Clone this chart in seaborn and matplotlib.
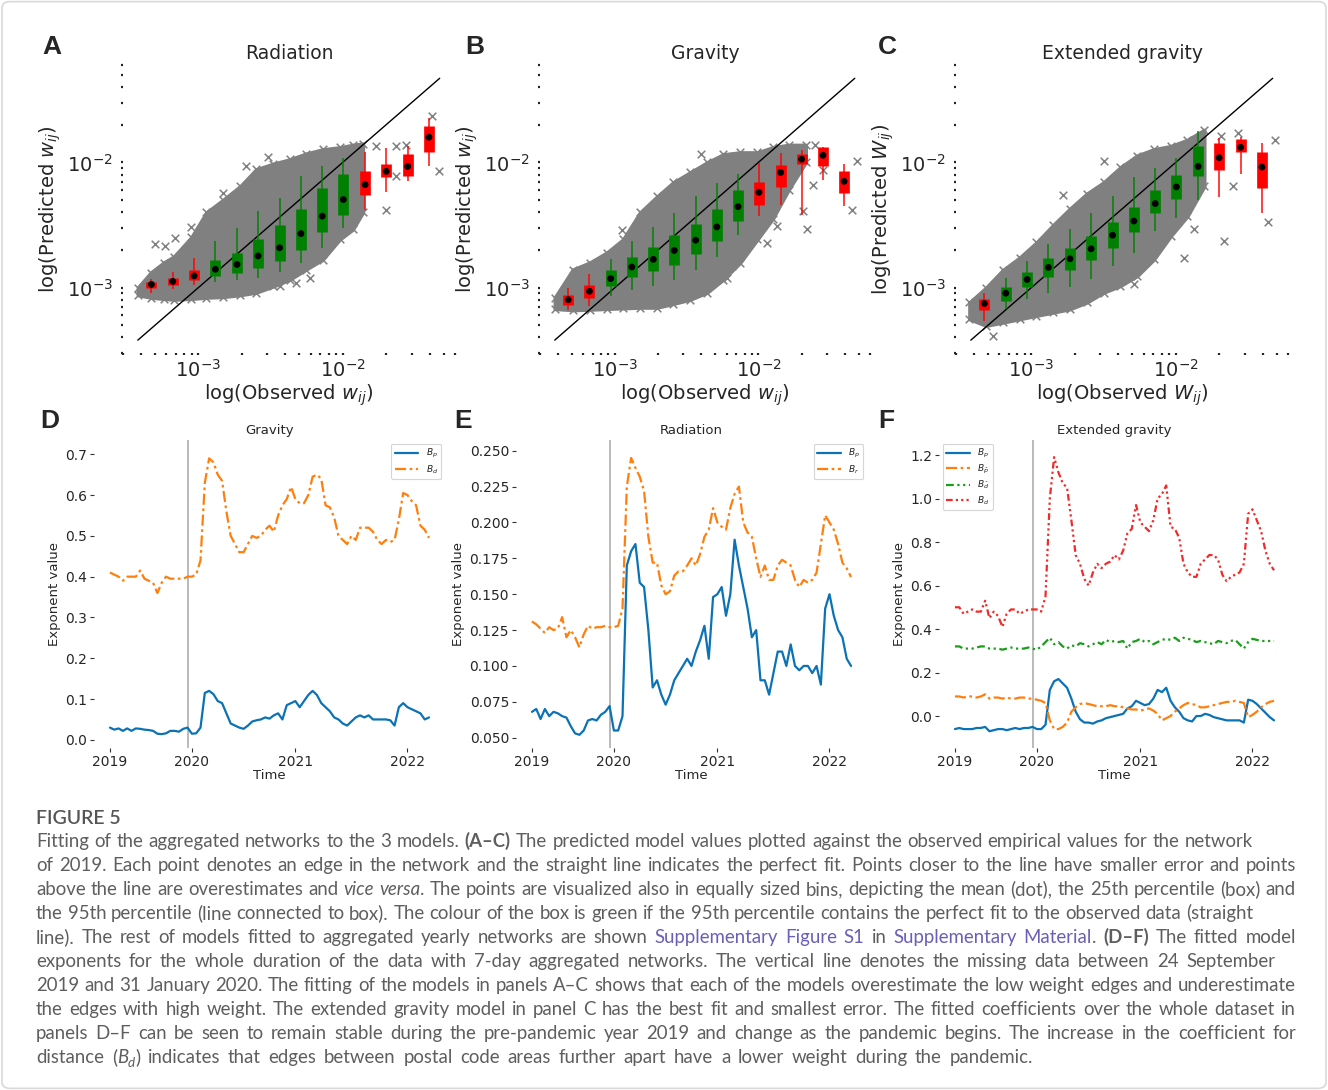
import numpy as np
import pandas as pd
import matplotlib
matplotlib.use("Agg")
import matplotlib.pyplot as plt
import seaborn as sns
from matplotlib.patches import FancyBboxPatch
from matplotlib.ticker import LogLocator, NullFormatter, FixedLocator, FormatStrFormatter

# ---------------------------------------------------------------- data (A-C)
bin_centers = [4.72e-4, 6.64e-4, 9.33e-4, 1.31e-3, 1.85e-3, 2.59e-3, 3.65e-3,
               5.13e-3, 7.21e-3, 1.01e-2, 1.43e-2, 2.00e-2, 2.82e-2, 3.96e-2]
diag_range = [3.8e-4, 4.7e-2]

A_mean = [1.06e-3, 1.12e-3, 1.24e-3, 1.40e-3, 1.53e-3, 1.79e-3, 2.08e-3, 2.70e-3, 3.72e-3, 5.05e-3, 6.64e-3, 8.48e-3, 9.29e-3, 1.59e-2]
A_box_lo = [0.99e-3, 1.05e-3, 1.15e-3, 1.24e-3, 1.30e-3, 1.42e-3, 1.63e-3, 2.0e-3, 2.77e-3, 3.78e-3, 5.46e-3, 7.6e-3, 7.74e-3, 1.20e-2]
A_box_hi = [1.10e-3, 1.19e-3, 1.38e-3, 1.65e-3, 1.90e-3, 2.45e-3, 3.19e-3, 4.28e-3, 6.28e-3, 8.13e-3, 8.59e-3, 9.76e-3, 1.17e-2, 1.96e-2]
A_wh_lo = [0.91e-3, 0.97e-3, 1.04e-3, 1.10e-3, 1.15e-3, 1.20e-3, 1.33e-3, 1.58e-3, 2.08e-3, 3.0e-3, 4.2e-3, 5.77e-3, 7.06e-3, 9.29e-3]
A_wh_hi = [1.16e-3, 1.33e-3, 1.73e-3, 2.35e-3, 3.0e-3, 4.07e-3, 5.2e-3, 7.74e-3, 9.4e-3, 1.08e-2, 1.22e-2, 1.30e-2, 1.36e-2, 2.25e-2]
A_fit = [0, 0, 0, 1, 1, 1, 1, 1, 1, 1, 0, 0, 0, 0]

B_mean = [0.80e-3, 0.935e-3, 1.18e-3, 1.46e-3, 1.68e-3, 1.98e-3, 2.39e-3, 3.05e-3, 4.43e-3, 5.77e-3, 8.32e-3, 1.06e-2, 1.14e-2, 7.06e-3]
B_box_lo = [0.728e-3, 0.828e-3, 1.03e-3, 1.22e-3, 1.36e-3, 1.51e-3, 1.84e-3, 2.35e-3, 3.40e-3, 4.55e-3, 6.32e-3, 9.76e-3, 9.29e-3, 5.66e-3]
B_box_hi = [0.875e-3, 1.045e-3, 1.38e-3, 1.77e-3, 2.12e-3, 2.62e-3, 3.23e-3, 4.26e-3, 6.03e-3, 6.98e-3, 9.53e-3, 1.17e-2, 1.32e-2, 8.53e-3]
B_wh_lo = [0.664e-3, 0.715e-3, 0.86e-3, 0.957e-3, 1.03e-3, 1.15e-3, 1.37e-3, 1.77e-3, 2.61e-3, 3.72e-3, 4.55e-3, 3.77e-3, 7.28e-3, 4.47e-3]
B_wh_hi = [1.0e-3, 1.28e-3, 1.70e-3, 2.35e-3, 3.05e-3, 3.95e-3, 5.43e-3, 6.85e-3, 8.13e-3, 9.88e-3, 1.19e-2, 1.26e-2, 1.32e-2, 9.7e-3]
B_fit = [0, 0, 1, 1, 1, 1, 1, 1, 1, 0, 0, 0, 0, 0]

C_mean = [0.746e-3, 0.902e-3, 1.16e-3, 1.45e-3, 1.70e-3, 2.04e-3, 2.62e-3, 3.40e-3, 4.69e-3, 6.37e-3, 9.29e-3, 1.09e-2, 1.32e-2, 9.18e-3]
C_box_lo = [0.664e-3, 0.783e-3, 1.01e-3, 1.22e-3, 1.38e-3, 1.66e-3, 2.06e-3, 2.77e-3, 3.93e-3, 5.14e-3, 7.74e-3, 8.74e-3, 1.20e-2, 6.25e-3]
C_box_hi = [0.807e-3, 1.01e-3, 1.33e-3, 1.71e-3, 2.06e-3, 2.56e-3, 3.37e-3, 4.44e-3, 6.05e-3, 7.98e-3, 1.36e-2, 1.43e-2, 1.53e-2, 1.21e-2]
C_wh_lo = [0.543e-3, 0.673e-3, 0.807e-3, 0.912e-3, 1.01e-3, 1.16e-3, 1.49e-3, 1.90e-3, 2.82e-3, 3.61e-3, 4.99e-3, 5.30e-3, 8.07e-3, 3.91e-3]
C_wh_hi = [0.912e-3, 1.20e-3, 1.63e-3, 2.24e-3, 2.91e-3, 3.91e-3, 5.36e-3, 7.6e-3, 9.02e-3, 1.08e-2, 1.77e-2, 1.56e-2, 1.61e-2, 1.43e-2]
C_fit = [0, 1, 1, 1, 1, 1, 1, 1, 1, 1, 1, 0, 0, 0]

# envelope of the grey point cloud (log10 of observed / predicted)
A_cloud_x_log = [-3.42, -3.33, -3.24, -3.17, -3.05, -2.945, -2.83, -2.71, -2.60, -2.48, -2.366, -2.255, -2.138, -2.021, -1.93, -1.86]
A_cloud_hi_log = [-3.00, -2.88, -2.80, -2.752, -2.60, -2.40, -2.30, -2.19, -2.056, -2.01, -1.976, -1.93, -1.896, -1.88, -1.86, -1.85]
A_cloud_lo_log = [-3.06, -3.08, -3.09, -3.096, -3.09, -3.08, -3.075, -3.06, -3.04, -2.99, -2.936, -2.856, -2.776, -2.616, -2.536, -2.40]
A_out_x_log = [-3.299, -3.230, -3.161, -2.828, -2.667, -2.437, -2.322, -2.230, -1.701, -1.632, -1.563, -1.379, -1.333, -1.770, -1.632, -3.05, -2.52]
A_out_y_log = [-2.655, -2.668, -2.602, -2.244, -2.032, -2.987, -2.960, -2.920, -2.377, -2.111, -1.859, -1.629, -2.072, -1.873, -1.873, -2.52, -1.96]

B_cloud_x_log = [-3.42, -3.294, -3.175, -3.056, -2.944, -2.825, -2.706, -2.594, -2.476, -2.357, -2.245, -2.126, -2.007, -1.90, -1.79, -1.67]
B_cloud_hi_log = [-3.08, -2.856, -2.80, -2.72, -2.616, -2.40, -2.272, -2.16, -2.08, -2.0, -1.936, -1.92, -1.92, -1.88, -1.86, -1.86]
B_cloud_lo_log = [-3.17, -3.18, -3.176, -3.17, -3.165, -3.16, -3.16, -3.13, -3.096, -3.04, -2.936, -2.80, -2.616, -2.45, -2.22, -2.0]
B_out_x_log = [-2.186, -2.221, -2.012, -1.942, -1.872, -1.686, -1.663, -1.616, -1.547, -1.349, -1.314, -1.605, -2.95, -2.40]
B_out_y_log = [-2.828, -2.920, -2.496, -2.642, -2.509, -2.390, -2.536, -2.178, -2.058, -2.377, -1.992, -1.859, -2.54, -1.93]

C_cloud_x_log = [-3.430, -3.314, -3.198, -3.081, -2.965, -2.849, -2.733, -2.616, -2.500, -2.384, -2.267, -2.151, -2.035, -1.919, -1.802]
C_cloud_hi_log = [-3.119, -3.000, -2.860, -2.760, -2.640, -2.500, -2.370, -2.250, -2.160, -2.040, -1.945, -1.895, -1.870, -1.820, -1.740]
C_cloud_lo_log = [-3.252, -3.305, -3.279, -3.252, -3.225, -3.199, -3.172, -3.119, -3.040, -2.987, -2.907, -2.775, -2.589, -2.430, -2.191]
C_out_x_log = [-3.267, -2.779, -2.500, -2.291, -2.151, -1.942, -1.872, -1.663, -1.605, -1.360, -1.314, -1.686, -1.570]
C_out_y_log = [-3.385, -2.257, -1.992, -2.973, -2.642, -2.761, -2.536, -2.629, -2.191, -2.477, -1.820, -1.793, -1.767]

# ---------------------------------------------------------------- data (D-F)
weeks = list(range(0, 149, 2))
year_ticks = [0, 38, 86, 138]
year_labels = ["2019", "2020", "2021", "2022"]
gap_week = 36

D_Bd = [.41, .405, .40, .39, .40, .40, .40, .415, .395, .39, .385, .36, .385, .40, .395, .395, .395, .395, .40, .40,
        .405, .44, .63, .69, .68, .65, .635, .56, .50, .48, .46, .46, .48, .50, .495, .50, .515, .525, .51, .55,
        .575, .59, .62, .59, .58, .58, .60, .645, .65, .64, .575, .57, .545, .50, .49, .48, .50, .49, .52, .52,
        .52, .51, .49, .48, .49, .485, .49, .54, .605, .60, .585, .575, .525, .515, .495]
D_Bp = [.03, .025, .028, .022, .028, .022, .028, .027, .025, .024, .022, .015, .014, .016, .022, .022, .02, .027, .03, .015,
        .016, .03, .115, .12, .112, .095, .09, .065, .04, .035, .03, .027, .035, .045, .048, .05, .055, .052, .06, .065,
        .05, .085, .09, .095, .08, .095, .11, .12, .11, .09, .08, .07, .055, .05, .04, .035, .045, .055, .06, .055,
        .06, .05, .05, .05, .05, .048, .035, .08, .09, .08, .075, .07, .065, .05, .055]

E_Br = [.131, .129, .126, .123, .127, .125, .126, .134, .12, .125, .12, .113, .122, .128, .126, .127, .127, .128, .127, .127,
        .128, .14, .225, .245, .238, .232, .222, .19, .172, .172, .156, .15, .152, .163, .166, .166, .17, .175, .17, .178,
        .19, .195, .21, .2, .197, .195, .21, .22, .225, .2, .193, .19, .175, .162, .17, .16, .16, .17, .174, .172,
        .17, .16, .155, .16, .158, .16, .165, .185, .205, .2, .195, .185, .172, .168, .162]
E_Bp = [.068, .07, .063, .07, .065, .068, .067, .065, .064, .058, .053, .052, .055, .062, .063, .062, .066, .068, .072, .055,
        .055, .065, .17, .18, .185, .158, .155, .125, .085, .09, .08, .073, .08, .09, .095, .1, .105, .1, .11, .118,
        .128, .105, .148, .15, .155, .135, .15, .188, .17, .155, .14, .12, .125, .09, .09, .08, .095, .11, .11, .1,
        .115, .1, .097, .1, .1, .095, .1, .087, .14, .15, .135, .125, .12, .105, .1]

F_Bp = [-.06, -.055, -.06, -.06, -.06, -.055, -.055, -.05, -.07, -.065, -.06, -.06, -.065, -.06, -.055, -.06, -.055, -.055, -.05, -.06,
        -.06, -.04, .12, .16, .17, .15, .13, .08, .02, -.015, -.03, -.03, -.035, -.025, -.02, -.01, -.005, 0.0, .005, .01,
        .035, .045, .07, .06, .05, .055, .08, .12, .11, .13, .07, .04, .02, -.01, -.02, -.025, 0.0, 0.0, .01, .005,
        -.005, -.01, -.015, -.02, -.02, -.02, -.02, -.03, .075, .07, .055, .035, .015, -.005, -.02]
F_Bp_hat = [.09, .09, .085, .09, .09, .085, .09, .10, .08, .085, .085, .08, .085, .08, .08, .085, .085, .08, .08, .075,
            .07, .06, -.02, -.06, -.06, -.05, -.03, .02, .04, .055, .06, .055, .05, .045, .045, .045, .05, .045, .045, .04,
            .035, .03, .03, .025, .03, .035, .025, .01, -.02, -.01, 0.0, .02, .035, .05, .06, .055, .05, .04, .04, .045,
            .05, .055, .06, .065, .065, .07, .065, .06, -.005, .005, .02, .04, .055, .065, .07]
F_Bd_hat = [.32, .32, .31, .31, .31, .315, .32, .32, .31, .31, .31, .305, .31, .315, .31, .31, .31, .315, .31, .305,
            .32, .34, .36, .33, .34, .32, .31, .325, .32, .335, .33, .32, .33, .34, .33, .35, .34, .345, .34, .345,
            .31, .34, .345, .355, .34, .345, .33, .34, .35, .355, .35, .36, .345, .36, .355, .35, .34, .345, .34, .335,
            .33, .345, .34, .335, .345, .35, .33, .31, .34, .355, .35, .345, .345, .345, .345]
F_Bd = [.50, .50, .47, .48, .49, .48, .48, .53, .45, .48, .46, .41, .47, .49, .49, .47, .48, .49, .49, .49,
        .48, .55, 1.0, 1.19, 1.12, 1.07, 1.05, .90, .74, .70, .63, .60, .66, .70, .68, .70, .71, .74, .72, .76,
        .84, .86, .97, .89, .87, .85, .90, 1.0, 1.02, 1.06, .87, .86, .82, .70, .66, .64, .64, .70, .72, .74,
        .74, .72, .65, .62, .64, .65, .66, .70, .93, .95, .90, .85, .76, .70, .67]

# ---------------------------------------------------------------- style
W, H = 1328, 1090
sns.set_theme(style="white")
plt.rcParams["font.family"] = ["DejaVu Sans"]
fig = plt.figure(figsize=(W / 100, H / 100), dpi=100)

GREY = "#808080"
GREEN = "#008000"
RED = "#ff0000"
BLUE = "#0a72b5"
ORANGE = "#ff7f0e"
LGREEN = "#1a9e1a"
LRED = "#f22a2a"


def px_axes(l, t, r, b):
    return fig.add_axes([l / W, 1 - b / H, (r - l) / W, (b - t) / H])


def scatter_panel(ax, title, wsym, cx, clo, chi, ox, oy, mean, blo, bhi, wlo, whi, fit):
    ax.set_xscale("log")
    ax.set_yscale("log")
    cx = 10 ** np.array(cx); clo = 10 ** np.array(clo); chi = 10 ** np.array(chi)
    ox = 10 ** np.array(ox); oy = 10 ** np.array(oy)
    ax.fill_between(cx, clo, chi, color=GREY, lw=2.5, edgecolor=GREY, zorder=1)
    pts = pd.DataFrame({"x": np.r_[cx, cx, ox], "y": np.r_[clo, chi, oy]})
    sns.scatterplot(data=pts, x="x", y="y", marker="x", color=GREY, s=30,
                    linewidth=1.1, ax=ax, zorder=1)
    sns.lineplot(x=diag_range, y=diag_range, color="black", lw=1.0, ax=ax, zorder=2)
    cols = [GREEN if f else RED for f in fit]
    ax.vlines(bin_centers, wlo, whi, colors=cols, lw=1.4, alpha=0.75, zorder=3)
    ax.vlines(bin_centers, blo, bhi, colors=cols, lw=7.7, zorder=4, capstyle="butt")
    sns.scatterplot(x=bin_centers, y=mean, color="black", s=24, edgecolor="none", ax=ax, zorder=5)
    ax.set_xlim(3.0e-4, 6.0e-2)
    ax.set_ylim(3.0e-4, 6.0e-2)
    for s in ax.spines.values():
        s.set_visible(False)
    ax.xaxis.set_major_locator(LogLocator(base=10, numticks=10))
    ax.yaxis.set_major_locator(LogLocator(base=10, numticks=10))
    ax.xaxis.set_minor_locator(LogLocator(base=10, subs=np.arange(2, 10), numticks=20))
    ax.yaxis.set_minor_locator(LogLocator(base=10, subs=np.arange(2, 10), numticks=20))
    ax.xaxis.set_minor_formatter(NullFormatter())
    ax.yaxis.set_minor_formatter(NullFormatter())
    ax.tick_params(which="both", bottom=True, left=True, length=1.4, width=1.6,
                   direction="out", color="#222222", labelsize=14)
    ax.tick_params(axis="x", which="both", pad=3)
    ax.tick_params(axis="y", which="both", pad=6)
    ax.set_title(title, fontsize=13.5, pad=4)
    ax.set_xlabel(f"log(Observed ${wsym}_{{ij}}$)", fontsize=14, labelpad=1)
    ax.set_ylabel(f"log(Predicted ${wsym}_{{ij}}$)", fontsize=14, labelpad=3)


axA = px_axes(123, 65, 455, 353)
axB = px_axes(540, 65, 870, 353)
axC = px_axes(956, 65, 1288, 353)
scatter_panel(axA, "Radiation", "w", A_cloud_x_log, A_cloud_lo_log, A_cloud_hi_log, A_out_x_log, A_out_y_log,
              A_mean, A_box_lo, A_box_hi, A_wh_lo, A_wh_hi, A_fit)
scatter_panel(axB, "Gravity", "w", B_cloud_x_log, B_cloud_lo_log, B_cloud_hi_log, B_out_x_log, B_out_y_log,
              B_mean, B_box_lo, B_box_hi, B_wh_lo, B_wh_hi, B_fit)
scatter_panel(axC, "Extended gravity", "W", C_cloud_x_log, C_cloud_lo_log, C_cloud_hi_log, C_out_x_log, C_out_y_log,
              C_mean, C_box_lo, C_box_hi, C_wh_lo, C_wh_hi, C_fit)


def ts_panel(ax, title, series, ylim, yticks, yfmt, loc):
    ax.axvline(gap_week, color="#b4b4b4", lw=1.3, zorder=0)
    for label, vals, color, dash in series:
        sns.lineplot(x=weeks, y=vals, color=color, lw=1.6, ax=ax, label=label)
        line = ax.lines[-1]
        if dash is not None:
            line.set_dashes(dash)
    ax.set_xlim(-7.4, 155.4)
    ax.set_ylim(*ylim)
    ax.xaxis.set_major_locator(FixedLocator(year_ticks))
    ax.set_xticklabels(year_labels)
    ax.yaxis.set_major_locator(FixedLocator(yticks))
    ax.yaxis.set_major_formatter(FormatStrFormatter(yfmt))
    for s in ax.spines.values():
        s.set_visible(False)
    ax.tick_params(bottom=True, left=True, length=3, width=0.8, direction="out",
                   color="#333333", labelsize=10, pad=2)
    ax.set_title(title, fontsize=9.5, pad=4)
    ax.set_xlabel("Time", fontsize=9.5, labelpad=0)
    ax.set_ylabel("Exponent value", fontsize=9.5, labelpad=3)
    leg = ax.legend(loc=loc, fontsize=6.5, frameon=True, handlelength=2.6,
                    borderaxespad=0.4, labelspacing=0.3, fancybox=True)
    leg.get_frame().set_edgecolor("#cccccc")
    leg.get_frame().set_linewidth(0.8)


DASH_O = (5, 1.6, 1.2, 1.6)
DASH_G = (3.5, 1.6, 1, 1.6, 1, 1.6)
DASH_R = (3, 1.4, 1, 1.4, 1, 1.4, 1, 1.4)

axD = px_axes(94, 440, 445, 748)
axE = px_axes(516, 440, 867, 748)
axF = px_axes(939, 440, 1290, 748)
ts_panel(axD, "Gravity", [(r"$B_p$", D_Bp, BLUE, None), (r"$B_d$", D_Bd, ORANGE, DASH_O)],
         (-0.02, 0.735), [0, .1, .2, .3, .4, .5, .6, .7], "%.1f", "upper right")
ts_panel(axE, "Radiation", [(r"$B_p$", E_Bp, BLUE, None), (r"$B_r$", E_Br, ORANGE, DASH_O)],
         (0.0428, 0.2575), [.05, .075, .1, .125, .15, .175, .2, .225, .25], "%.3f", "upper right")
ts_panel(axF, "Extended gravity",
         [(r"$B_p$", F_Bp, BLUE, None), (r"$B_{\hat{p}}$", F_Bp_hat, ORANGE, DASH_O),
          (r"$B_{\hat{d}}$", F_Bd_hat, LGREEN, DASH_G), (r"$B_d$", F_Bd, LRED, DASH_R)],
         (-0.147, 1.269), [0, .2, .4, .6, .8, 1.0, 1.2], "%.1f", "upper left")

# panel letters
for letter, (x, y) in {"A": (52, 47), "B": (475, 47), "C": (887, 47),
                       "D": (50, 421), "E": (463, 421), "F": (886, 421)}.items():
    fig.text(x / W, 1 - y / H, letter, fontsize=19, fontweight="bold", ha="center",
             va="center", family=["Liberation Sans", "DejaVu Sans"])

# ---------------------------------------------------------------- caption
CAP = "#5e5e5e"
LINK = "#6a5fb8"
cap_lines = [
    [("Fitting of the aggregated networks to the 3 models. ", "n"), ("(A\u2013C)", "b"),
     (" The predicted model values plotted against the observed empirical values for the network", "n")],
    [("of 2019. Each point denotes an edge in the network and the straight line indicates the perfect fit. Points closer to the line have smaller error and points", "n")],
    [("above the line are overestimates and ", "n"), ("vice versa", "i"),
     (". The points are visualized also in equally sized bins, depicting the mean (dot), the 25th percentile (box) and", "n")],
    [("the 95th percentile (line connected to box). The colour of the box is green if the 95th percentile contains the perfect fit to the observed data (straight", "n")],
    [("line). The rest of models fitted to aggregated yearly networks are shown ", "n"),
     ("Supplementary Figure S1", "l"), (" in ", "n"), ("Supplementary Material", "l"), (". ", "n"),
     ("(D\u2013F)", "b"), (" The fitted model", "n")],
    [("exponents for the whole duration of the data with 7-day aggregated networks. The vertical line denotes the missing data between 24 September", "n")],
    [("2019 and 31 January 2020. The fitting of the models in panels A\u2013C shows that each of the models overestimate the low weight edges and underestimate", "n")],
    [("the edges with high weight. The extended gravity model in panel C has the best fit and smallest error. The fitted coefficients over the whole dataset in", "n")],
    [("panels D\u2013F can be seen to remain stable during the pre-pandemic year 2019 and change as the pandemic begins. The increase in the coefficient for", "n")],
    [("distance (", "n"), ("B", "i"), ("d", "s"),
     (") indicates that edges between postal code areas further apart have a lower weight during the pandemic.", "n")],
]
line_end_px = [1253, 1296, 1296, 1253, 1296, 1275, 1296, 1296, 1296, 1033]
CAP_X0 = 36
renderer = fig.canvas.get_renderer()


def kw_for(style, size):
    kw = dict(fontsize=size, color=CAP, family=["Lato", "DejaVu Sans"])
    if style == "b":
        kw["fontweight"] = "bold"
    elif style == "i":
        kw["fontstyle"] = "italic"
    elif style == "l":
        kw["color"] = LINK
    elif style == "s":
        kw["fontstyle"] = "italic"
        kw["fontsize"] = size * 0.72
    return kw


def text_w(s, kw):
    t = fig.text(0, 0, s, **kw)
    w = t.get_window_extent(renderer).width
    t.remove()
    return w


def layout_runs(runs, size):
    """Split runs into words; return list of (word, style) items and gaps count, natural width."""
    items = []  # ("w", word, style) or ("s", style)
    for s, style in runs:
        parts = s.split(" ")
        for j, p in enumerate(parts):
            if p:
                items.append(("w", p, style))
            if j < len(parts) - 1:
                items.append(("s", None, style))
    widths = []
    nat = 0.0
    nsp = 0
    for kind, word, style in items:
        kw = kw_for(style, size)
        if kind == "w":
            w = text_w(word, kw)
        else:
            w = text_w("x x", kw) - text_w("xx", kw)
            nsp += 1
        widths.append(w)
        nat += w
    return items, widths, nat, nsp


def draw_line(runs, ybase, size, target):
    items, widths, nat, nsp = layout_runs(runs, size)
    extra = (target - nat) / nsp if nsp else 0.0
    x = CAP_X0
    for (kind, word, style), w in zip(items, widths):
        if kind == "w":
            kw = kw_for(style, size)
            dy = 4 if style == "s" else 0
            fig.text(x / W, 1 - (ybase + dy) / H, word, ha="left", va="baseline", **kw)
            x += w
        else:
            x += w + extra


base_size = 12.0
ratios = []
for runs, end in zip(cap_lines, line_end_px):
    _, _, nat, _ = layout_runs(runs, base_size)
    ratios.append((end - CAP_X0) / nat)
cap_size = base_size * min(ratios) * 0.995

fig.text(CAP_X0 / W, 1 - 824 / H, "FIGURE 5", fontsize=cap_size * 1.05, fontweight="semibold",
         color="#555555", family=["Lato", "DejaVu Sans"], ha="left", va="baseline")
for i, (runs, end) in enumerate(zip(cap_lines, line_end_px)):
    draw_line(runs, 847 + 24 * i, cap_size, end - CAP_X0)

# light frame around the whole figure
fig.patches.append(FancyBboxPatch((0.0015, 0.0015), 0.997, 0.997,
                                  boxstyle="round,pad=0,rounding_size=0.006",
                                  transform=fig.transFigure, fill=False,
                                  ec="#d9d9d9", lw=1.2))

fig.savefig("out.png", dpi=100)
